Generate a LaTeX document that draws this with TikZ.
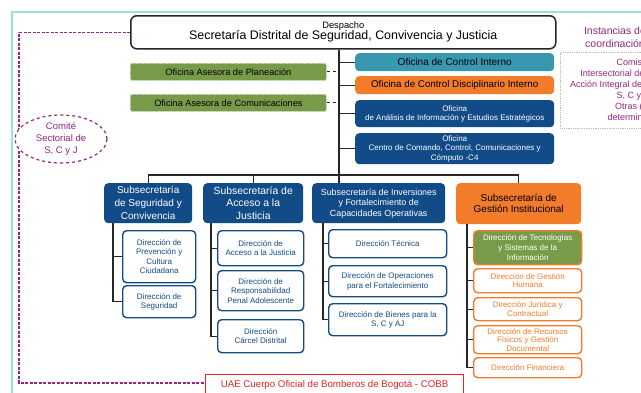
\documentclass[tikz,border=0pt]{standalone}
\usepackage{fontspec}
\setmainfont{Liberation Sans}
\usetikzlibrary{positioning,shapes.geometric}
\definecolor{azul}{RGB}{18,76,136}
\definecolor{naranja}{RGB}{243,124,42}
\definecolor{verde}{RGB}{120,155,74}
\definecolor{turquesa}{RGB}{56,152,176}
\definecolor{morado}{RGB}{146,38,128}
\definecolor{rojo}{RGB}{226,36,40}
\definecolor{marco}{RGB}{150,228,220}
\newcommand{\fs}[2]{\fontsize{#1}{#2}\selectfont}
\tikzset{
	caja/.style={rounded corners=4pt, align=center, inner sep=1pt, anchor=north west},
	tam/.style 2 args={minimum width=#1pt, minimum height=#2pt},
	subsec/.style={caja, fill=azul, text=white},
	dirazul/.style={caja, draw=azul, line width=1.4pt, fill=white, text=azul, font=\fs{8}{9.4}},
	dirnaranja/.style={caja, draw=naranja, line width=1.4pt, fill=white, text=naranja, font=\fs{8}{8.4}},
	asesora/.style={caja, rounded corners=2pt, fill=verde, draw=verde!45!white, dashed, line width=0.8pt, font=\fs{9.2}{10}},
	linea/.style={line width=1.1pt, black!85},
	enlace/.style={morado, line width=1.4pt, dash pattern=on 3pt off 1.5pt},
}

\begin{document}
\begin{tikzpicture}[x=1pt,y=-1pt]
	\useasboundingbox (0,0) rectangle (641,392);
	\clip (0,0) rectangle (641,392);
	\draw[marco, line width=1.2pt] (12,400) -- (12,12) -- (700,12);

	\node[caja, tam={425}{33}, draw=black!85, line width=1.5pt, rounded corners=6pt, fill=white] (despacho) at (130,15)
		{{\fs{9.3}{10}Despacho}\\[-1pt]{\fs{12.4}{13}Secretaría Distrital de Seguridad, Convivencia y Justicia}};

	\node[asesora, tam={196}{17}] (planeacion) at (130,63) {Oficina Asesora de Planeación};
	\node[asesora, tam={196}{17}] (comunicaciones) at (130,94) {Oficina Asesora de Comunicaciones};

	\node[caja, tam={199}{18}, fill=turquesa, font=\fs{10}{11}] (control) at (355,53) {Oficina de Control Interno};
	\node[caja, tam={199}{18}, fill=naranja, font=\fs{9.8}{11}] (disciplinario) at (355,76) {Oficina de Control Disciplinario Interno};
	\node[caja, tam={199}{27}, fill=azul, text=white, font=\fs{8}{9.5}] (analisis) at (355,100)
		{Oficina\\de Análisis de Información y Estudios Estratégicos};
	\node[caja, tam={199}{31}, fill=azul, text=white, font=\fs{8}{9.5}] (centro) at (355,133)
		{Oficina\\Centro de Comando, Control, Comunicaciones y\\Cómputo -C4};

	\node[subsec, tam={88}{40}, font=\fs{10}{13}] (sub1) at (104,183) {Subsecretaría\\de Seguridad y\\Convivencia};
	\node[subsec, tam={100}{40}, font=\fs{10.4}{12.5}] (sub2) at (203,183) {Subsecretaría de\\Acceso a la\\Justicia};
	\node[subsec, tam={133}{40}, font=\fs{8.9}{10.5}] (sub3) at (312,183) {Subsecretaría de Inversiones\\y Fortalecimiento de\\Capacidades Operativas};
	\node[subsec, tam={125}{41}, fill=naranja, text=black, font=\fs{10}{11}] (sub4) at (456,183) {Subsecretaría de\\Gestión Institucional};

	\node[dirazul, tam={73}{52}] (d11) at (122,230) {Dirección de\\Prevención y\\Cultura\\Ciudadana};
	\node[dirazul, tam={73}{32}] (d12) at (122,285) {Dirección de\\Seguridad};

	\node[dirazul, tam={86}{35}] (d21) at (217,230) {Dirección de\\Acceso a la Justicia};
	\node[dirazul, tam={86}{40}] (d22) at (217,270) {Dirección de\\Responsabilidad\\Penal Adolescente};
	\node[dirazul, tam={86}{33}] (d23) at (217,319) {Dirección\\Cárcel Distrital};

	\node[dirazul, tam={118}{28}] (d31) at (328,229) {Dirección Técnica};
	\node[dirazul, tam={118}{31}] (d32) at (328,265) {Dirección de Operaciones\\para el Fortalecimiento};
	\node[dirazul, tam={118}{32}] (d33) at (328,303) {Dirección de Bienes para la\\S, C y AJ};

	\node[dirnaranja, tam={108}{34}, fill=verde, text=white, font=\fs{8}{10}] (d41) at (473,230) {Dirección de Tecnologías\\y Sistemas de la\\Información};
	\node[dirnaranja, tam={108}{24}] (d42) at (473,268) {Dirección de Gestión\\Humana};
	\node[dirnaranja, tam={108}{23}] (d43) at (473,297) {Dirección Jurídica y\\Contractual};
	\node[dirnaranja, tam={108}{28}] (d44) at (473,325) {Dirección de Recursos\\Físicos y Gestión\\Documental};
	\node[dirnaranja, tam={108}{20}] (d45) at (473,357) {Dirección Financiera};

	\node[caja, tam={258}{20}, rounded corners=0pt, draw=rojo, line width=1.2pt, fill=white, text=rojo, font=\fs{9.7}{11}] (uae) at (205,374)
		{UAE Cuerpo Oficial de Bomberos de Bogotá - COBB};

	\coordinate (tronco) at (339,175);
	\draw[linea] (despacho.south -| tronco) -- (sub3.north -| tronco);
	\foreach \n in {control,disciplinario,analisis,centro}
		\draw[linea] (\n.west -| tronco) -- (\n.west);
	\foreach \n in {planeacion,comunicaciones}
		\draw[linea, dashed] (\n.east) -- (\n.east -| tronco);
	\draw[linea] (sub1.north) |- (tronco) -| (sub4.north);
	\draw[linea] (sub2.north) -- (sub2.north |- tronco);
	\foreach \s/\d/\e in {sub1/d11/9, sub1/d12/9, sub2/d21/6, sub2/d22/6, sub2/d23/6, sub3/d31/5, sub3/d32/5, sub3/d33/5,
		sub4/d41/6, sub4/d42/6, sub4/d43/6, sub4/d44/6, sub4/d45/6}
		\draw[linea] ([xshift=-\e pt]\d.west |- \s.south) |- (\d.west);

	\coordinate (esquina) at (19,383);
	\draw[enlace] (despacho.west) -| (esquina) -- (esquina -| uae.west);
	\node[ellipse, draw=morado, dashed, line width=1.2pt, fill=white, text=morado, align=center, inner sep=0pt,
		minimum width=92pt, minimum height=48pt, font=\fs{9.5}{12}] (comite) at (61,139) {Comité\\Sectorial de\\S, C y J};

	\node[text=morado, align=center, font=\fs{10.5}{13}] (instancias) at (615,37) {Instancias de\\coordinación};
	\node[caja, rounded corners=0pt, tam={150}{76}, draw=gray!55, densely dotted, line width=0.8pt, text=morado, font=\fs{9}{11}] (comisiones) at (560,52)
		{Comisión\\Intersectorial de Seguridad,\\Acción Integral de Convivencia y\\S, C y AJ\\Otras (por\\determinarse)};
\end{tikzpicture}
\end{document}
